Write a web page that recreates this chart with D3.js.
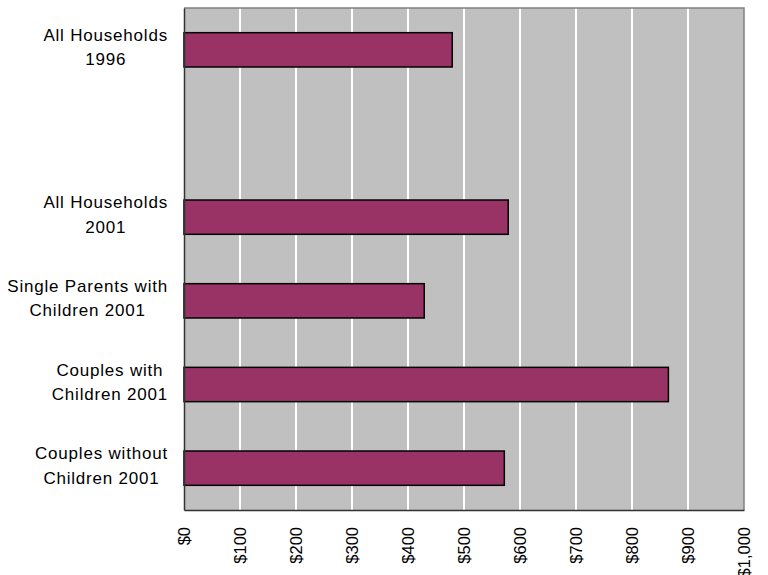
<!DOCTYPE html>
<html>
<head>
<meta charset="utf-8">
<script src="https://cdn.jsdelivr.net/npm/d3@7/dist/d3.min.js"></script>
<style>
  html, body { margin: 0; padding: 0; background: #fff; }
  svg { display: block; }
  text { font-family: "Liberation Sans", Arial, sans-serif; fill: #000; }
</style>
</head>
<body>
<svg id="chart" width="768" height="575"></svg>
<script>
// ---- data ----
const categories = [
  ["All Households", "1996"],
  [],
  ["All Households", "2001"],
  ["Single Parents with", "Children 2001"],
  ["Couples with", "Children 2001"],
  ["Couples without", "Children 2001"]
];
const values = [479, null, 579, 429, 865, 572];
const tickValues = [0, 100, 200, 300, 400, 500, 600, 700, 800, 900, 1000];

// ---- layout ----
const plot = { left: 184, top: 8, right: 744, bottom: 510 };
const svg = d3.select("#chart");

const x = d3.scaleLinear().domain([0, 1000]).range([plot.left, plot.right]);
const y = d3.scaleBand()
  .domain(d3.range(categories.length))
  .range([plot.top, plot.bottom])
  .paddingInner(0.59)
  .paddingOuter(0.295);

// background
svg.append("rect")
  .attr("x", plot.left).attr("y", plot.top)
  .attr("width", plot.right - plot.left).attr("height", plot.bottom - plot.top)
  .attr("fill", "#C0C0C0");

// gridlines
svg.append("g")
  .selectAll("line")
  .data(tickValues.filter(v => v > 0 && v < 1000))
  .join("line")
  .attr("x1", d => x(d)).attr("x2", d => x(d))
  .attr("y1", plot.top).attr("y2", plot.bottom)
  .attr("stroke", "#ffffff").attr("stroke-width", 2);

// plot border (top/right gray)
svg.append("path")
  .attr("d", `M${plot.left},${plot.top}H${plot.right}V${plot.bottom}`)
  .attr("fill", "none").attr("stroke", "#808080").attr("stroke-width", 1.5);

// bars
const barData = values.map((v, i) => ({ i, v })).filter(d => d.v != null);
svg.append("g")
  .selectAll("rect")
  .data(barData)
  .join("rect")
  .attr("x", x(0))
  .attr("y", d => y(d.i))
  .attr("width", d => x(d.v) - x(0))
  .attr("height", y.bandwidth())
  .attr("fill", "#993366")
  .attr("stroke", "#000")
  .attr("stroke-width", 1.5);

// x axis
const xAxis = d3.axisBottom(x)
  .tickValues(tickValues)
  .tickSize(0)
  .tickFormat(d => "$" + d3.format(",")(d));
const gx = svg.append("g")
  .attr("transform", `translate(0,${plot.bottom})`)
  .call(xAxis);
gx.select(".domain").attr("stroke", "#333").attr("stroke-width", 1.5);
gx.selectAll("text")
  .attr("transform", "translate(0,17) rotate(-90)")
  .attr("x", 0).attr("y", 0)
  .attr("dy", "0.35em")
  .attr("text-anchor", "end")
  .style("font-size", "16.5px")
  .attr("fill", "#000")
  .attr("font-family", "Liberation Sans, Arial, sans-serif");

// y axis line
const yAxis = d3.axisLeft(y).tickSize(0).tickFormat("");
const gy = svg.append("g")
  .attr("transform", `translate(${plot.left},0)`)
  .call(yAxis);
gy.select(".domain").attr("stroke", "#333").attr("stroke-width", 1.5);

// y labels: each block centered, block right-aligned
const labelRight = 168;
const lineH = 24.5;
const lg = svg.append("g");
categories.forEach((lines, i) => {
  if (!lines.length) return;
  const c = y(i) + y.bandwidth() / 2;
  const t = lg.append("text")
    .style("font-size", "17px")
    .style("letter-spacing", "0.8px")
    .attr("text-anchor", "middle");
  const spans = lines.map((s, k) =>
    t.append("tspan").text(s).attr("y", c - 9 + k * lineH));
  const maxW = d3.max(spans, sp => sp.node().getComputedTextLength());
  spans.forEach(sp => sp.attr("x", labelRight - maxW / 2));
});
</script>
</body>
</html>
